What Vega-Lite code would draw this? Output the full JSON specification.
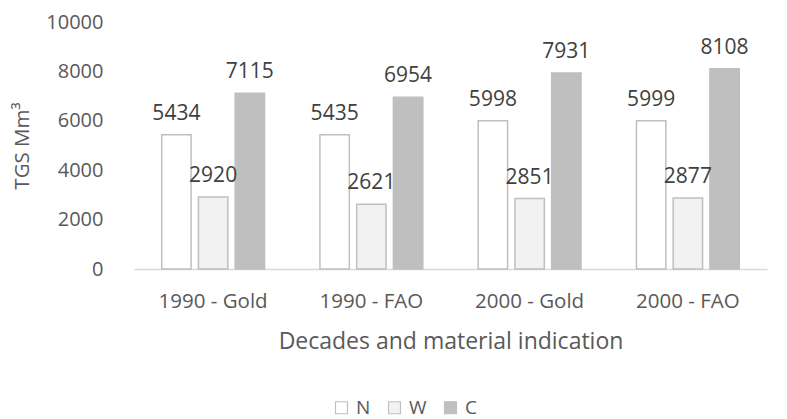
{
  "$schema": "https://vega.github.io/schema/vega-lite/v6.json",
  "autosize": "none",
  "width": 633,
  "height": 247,
  "padding": {"left": 134, "top": 22, "right": 20, "bottom": 150},
  "background": "white",
  "config": {"view": {"stroke": null}, "font": "Open Sans"},
  "data": {
    "values": [
      {"cat": "1990 - Gold", "s": "N", "v": 5434},
      {"cat": "1990 - Gold", "s": "W", "v": 2920},
      {"cat": "1990 - Gold", "s": "C", "v": 7115},
      {"cat": "1990 - FAO", "s": "N", "v": 5435},
      {"cat": "1990 - FAO", "s": "W", "v": 2621},
      {"cat": "1990 - FAO", "s": "C", "v": 6954},
      {"cat": "2000 - Gold", "s": "N", "v": 5998},
      {"cat": "2000 - Gold", "s": "W", "v": 2851},
      {"cat": "2000 - Gold", "s": "C", "v": 7931},
      {"cat": "2000 - FAO", "s": "N", "v": 5999},
      {"cat": "2000 - FAO", "s": "W", "v": 2877},
      {"cat": "2000 - FAO", "s": "C", "v": 8108}
    ]
  },
  "encoding": {
    "x": {
      "field": "cat", "type": "nominal", "sort": null,
      "scale": {"paddingInner": 0.35, "paddingOuter": 0.175},
      "axis": {
        "title": "Decades and material indication", "labelAngle": 0,
        "labelFontSize": 20.5, "labelColor": "#595959", "labelPadding": 22,
        "ticks": false, "domainColor": "#d9d9d9", "domainWidth": 1.5,
        "titleFontSize": 23, "titleFontWeight": "normal", "titleColor": "#595959", "titlePadding": 19
      }
    },
    "xOffset": {"field": "s", "type": "nominal", "sort": ["N", "W", "C"], "scale": {"paddingInner": 0.2}},
    "y": {
      "field": "v", "type": "quantitative",
      "scale": {"domain": [0, 10000]},
      "axis": {
        "title": "TGS Mm³", "values": [0, 2000, 4000, 6000, 8000, 10000], "format": "d",
        "grid": false, "domain": false, "ticks": false, "labelPadding": 31,
        "labelFontSize": 20, "labelColor": "#595959",
        "titleFontSize": 20.5, "titleFontWeight": "normal", "titleColor": "#595959", "titlePadding": 13
      }
    }
  },
  "layer": [
    {
      "mark": {"type": "bar", "stroke": "#bfbfbf", "strokeWidth": 1.5},
      "encoding": {
        "fill": {
          "field": "s", "type": "nominal",
          "scale": {"domain": ["N", "W", "C"], "range": ["#ffffff", "#f2f2f2", "#bfbfbf"]},
          "legend": {
            "title": null, "orient": "none", "direction": "horizontal",
            "legendX": 198, "legendY": 376, "symbolType": "square", "symbolSize": 144,
            "symbolStrokeColor": "#bfbfbf", "symbolStrokeWidth": 1.2,
            "labelFontSize": 19, "labelColor": "#595959", "columnPadding": 14, "labelOffset": 5
          }
        }
      }
    },
    {
      "mark": {"type": "text", "fontSize": 21, "color": "#404040", "baseline": "middle", "dy": -21},
      "encoding": {"text": {"field": "v", "type": "quantitative", "format": "d"}}
    }
  ]
}
